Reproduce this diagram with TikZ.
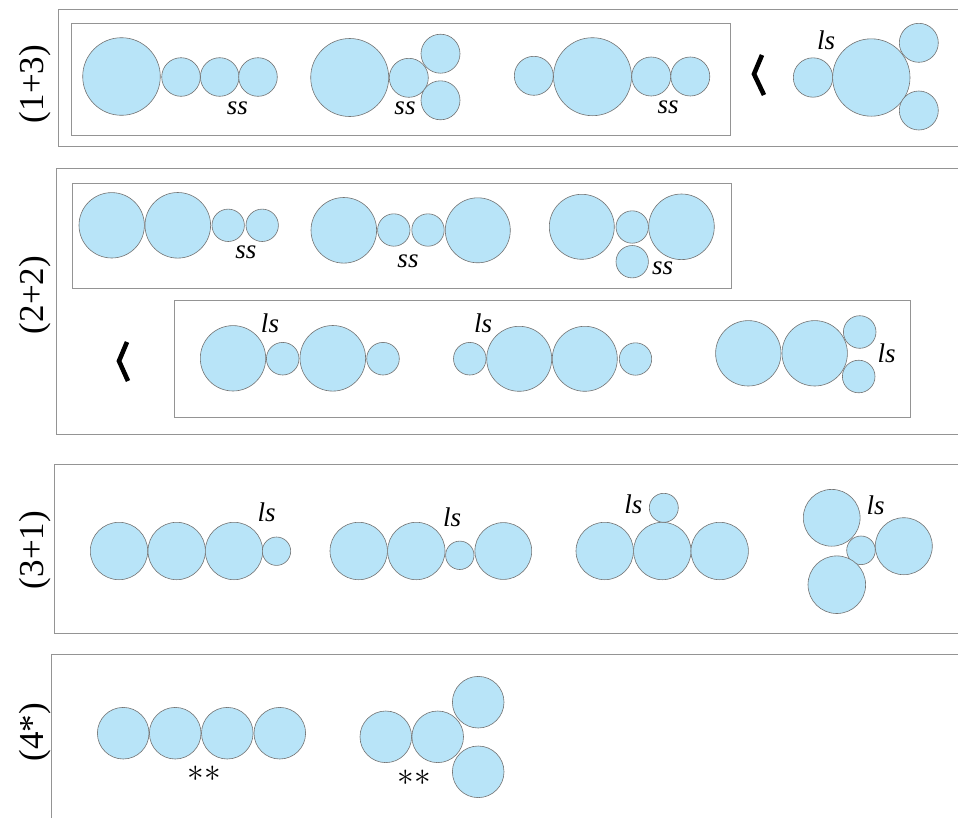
\documentclass[tikz,border=0pt]{standalone}
\usepackage{fontspec}
\setmainfont{Liberation Serif}
\begin{document}
\begin{tikzpicture}[x=1pt,y=-1pt,
  ball/.style={circle,draw=black!55,line width=0.6pt,fill=ballblue,inner sep=0pt,minimum size=#1},
  frame/.style={draw=black!42,line width=0.9pt},
  sidelabel/.style={rotate=90,font=\fontsize{35}{37}\selectfont,inner sep=0pt},
  tag/.style={font=\fontsize{27}{29}\selectfont\itshape,inner sep=0pt},
  star/.style={font=\fontsize{20}{22}\selectfont,inner sep=0pt},
  chev/.style={line width=4.6pt,line join=miter,line cap=butt}]
\definecolor{ballblue}{RGB}{184,228,248}
\useasboundingbox (0,0) rectangle (958,817);
\clip (0,0) rectangle (958,817);
\fill[white] (0,0) rectangle (958,817);

% ---------------- (1+3) ----------------
\draw[frame] (970,9.5) -- (58,9.5) -- (58,146) -- (970,146);
\draw[frame] (71,23) rectangle (730,135);
\node[sidelabel] (L13) at (35,84) {(1+3)};

\node[ball=77.6] (a1) at (121.5,76.5) {};
\node[ball=38.6] (a2) at (181,77) {};
\node[ball=38.6] (a3) at (219.7,77) {};
\node[ball=38.6] (a4) at (258,77) {};
\node[tag] (a5) at (237.5,108) {ss};

\node[ball=78] (b1) at (349.7,77.5) {};
\node[ball=39] (b2) at (408.8,77.8) {};
\node[ball=39] (b3) at (440.5,53.7) {};
\node[ball=39] (b4) at (440.5,100.3) {};
\node[tag] (b5) at (405,108) {ss};

\node[ball=39] (c1) at (533.8,75.8) {};
\node[ball=78] (c2) at (592.5,76.7) {};
\node[ball=39] (c3) at (651.2,76.5) {};
\node[ball=39] (c4) at (690.3,76.5) {};
\node[tag] (c5) at (668,107) {ss};

\draw[chev] (762,55) -- (754,74) -- (764,95);

\node[ball=39.4] (d1) at (813,77.5) {};
\node[ball=77.4] (d2) at (871.3,77.5) {};
\node[ball=39] (d3) at (918.8,42.8) {};
\node[ball=39] (d4) at (918.8,110.5) {};
\node[tag] (d5) at (826,40) {ls};

% ---------------- (2+2) ----------------
\draw[frame] (970,168.3) -- (56.7,168.3) -- (56.7,434) -- (970,434);
\draw[frame] (72.3,183.3) rectangle (731.7,288.7);
\draw[frame] (174.3,300) rectangle (910,417.3);
\node[sidelabel] (L22) at (35,295) {(2+2)};

\node[ball=65.4] (e1) at (111.7,225.3) {};
\node[ball=65.6] (e2) at (177.8,225.3) {};
\node[ball=32.4] (e3) at (228.2,225.3) {};
\node[ball=32.4] (e4) at (262.2,225.3) {};
\node[tag] (e5) at (245.8,252) {ss};

\node[ball=65.6] (f1) at (343.8,230.3) {};
\node[ball=32.4] (f2) at (393.8,230) {};
\node[ball=32.4] (f3) at (428,230) {};
\node[ball=65] (f4) at (477.8,230.3) {};
\node[tag] (f5) at (408,261) {ss};

\node[ball=65] (g1) at (581.8,226.8) {};
\node[ball=32.4] (g2) at (632.2,227) {};
\node[ball=65.6] (g3) at (681.5,226.8) {};
\node[ball=32.4] (g4) at (632.2,261.7) {};
\node[tag] (g5) at (662.5,268) {ss};

\draw[chev] (127,342) -- (119,361) -- (128,381);

\node[ball=65.4] (h1) at (233,358.3) {};
\node[ball=32.6] (h2) at (282.7,358.7) {};
\node[ball=65.6] (h3) at (332.8,358.3) {};
\node[ball=32.6] (h4) at (383,358.7) {};
\node[tag] (h5) at (270,323) {ls};

\node[ball=32.6] (i1) at (469.8,358.7) {};
\node[ball=65] (i2) at (519.2,358.8) {};
\node[ball=65] (i3) at (584.8,358.8) {};
\node[ball=32.4] (i4) at (635.5,359) {};
\node[tag] (i5) at (483,323) {ls};

\node[ball=65.4] (j1) at (748.3,353.3) {};
\node[ball=65.4] (j2) at (814.7,353.3) {};
\node[ball=32.6] (j3) at (859.7,332) {};
\node[ball=32.6] (j4) at (858.7,376.5) {};
\node[tag] (j5) at (886.7,353) {ls};

% ---------------- (3+1) ----------------
\draw[frame] (970,464.3) -- (54.3,464.3) -- (54.3,633) -- (970,633);
\node[sidelabel] (L31) at (35,550) {(3+1)};

\node[ball=57.4] (k1) at (119,551) {};
\node[ball=57.4] (k2) at (176.7,551) {};
\node[ball=57.4] (k3) at (234,551) {};
\node[ball=28.4] (k4) at (276.5,551.2) {};
\node[tag] (k5) at (266.7,512) {ls};

\node[ball=57.4] (m1) at (358.7,551) {};
\node[ball=57.4] (m2) at (416.3,551) {};
\node[ball=28.4] (m3) at (459.8,555.3) {};
\node[ball=56.8] (m4) at (503.3,551) {};
\node[tag] (m5) at (452,517) {ls};

\node[ball=57.4] (n1) at (604.7,551) {};
\node[ball=57.4] (n2) at (662.3,551) {};
\node[ball=57.4] (n3) at (719.7,551) {};
\node[ball=29] (n4) at (663.8,507.8) {};
\node[tag] (n5) at (633.3,504) {ls};

\node[ball=56.8] (o1) at (831.7,517.8) {};
\node[ball=28.6] (o2) at (861,550.3) {};
\node[ball=57] (o3) at (903.8,546.2) {};
\node[ball=57.6] (o4) at (836.8,584.7) {};
\node[tag] (o5) at (875.5,505) {ls};

% ---------------- (4*) ----------------
\draw[frame] (970,654.3) -- (51,654.3) -- (51,830);
\node[sidelabel] (L4) at (35,732) {(4*)};

\node[ball=51.6] (p1) at (123.2,733.2) {};
\node[ball=51.6] (p2) at (175.2,733.2) {};
\node[ball=51.6] (p3) at (227.3,733.2) {};
\node[ball=51.6] (p4) at (279.8,733.2) {};
\node[star] (p5) at (204,774) {\scalebox{1.6}{$\ast\ast$}};

\node[ball=51.6] (q1) at (385.8,736.8) {};
\node[ball=51.6] (q2) at (437.7,736.8) {};
\node[ball=51.6] (q3) at (478.2,702.2) {};
\node[ball=51.6] (q4) at (478.2,771.8) {};
\node[star] (q5) at (414.2,777.5) {\scalebox{1.6}{$\ast\ast$}};
\end{tikzpicture}
\end{document}
